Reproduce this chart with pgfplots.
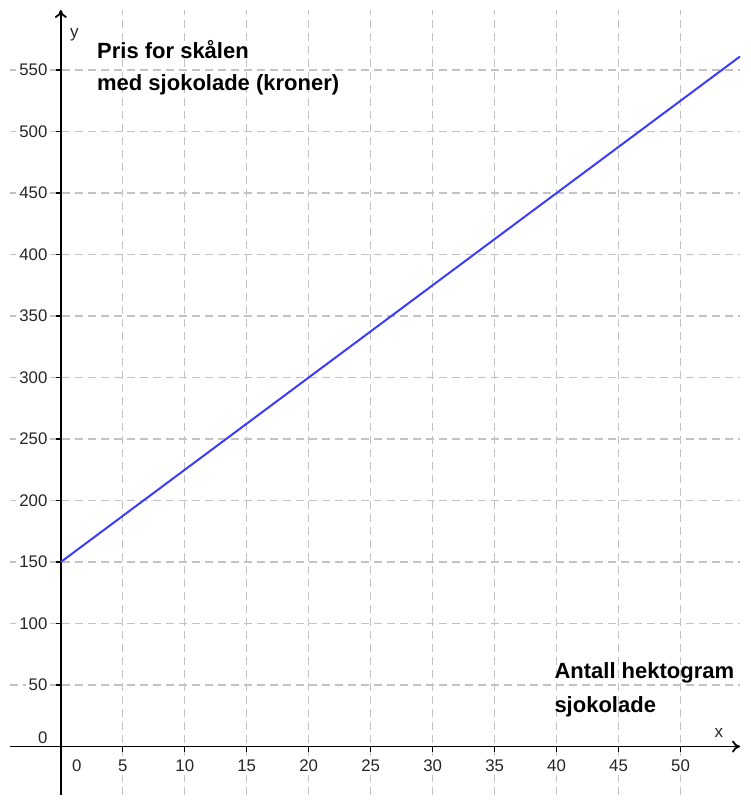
\documentclass[border=0pt]{standalone}
\usepackage{pgfplots}
\pgfplotsset{compat=1.18}
\usepackage{fontspec}
\setmainfont{Liberation Sans}
\usetikzlibrary{arrows.meta}
\definecolor{gridgray}{RGB}{195,195,195}
\definecolor{lineblue}{RGB}{60,60,255}
\begin{document}
\begin{tikzpicture}
\begin{axis}[
    set layers=standard,
    scale only axis,
    width=365pt, height=392.5pt,
    xmin=-4.1, xmax=54.8, ymin=-39.4, ymax=598.8,
    axis lines=middle,
    axis line style={line width=0.9pt, -{To[length=4pt,width=6pt]}},
    xtick={5,10,...,50}, ytick={50,100,...,550},
    extra x ticks={0}, extra y ticks={0},
    extra x tick style={grid=none, xticklabel style={xshift=8pt}},
    extra y tick style={grid=none, yticklabel style={yshift=4.5pt}},
    grid=major,
    major grid style={gridgray, dash pattern=on 4pt off 2.5pt, line width=0.7pt},
    tick style={black, line width=0.6pt},
    tick align=outside,
    major tick length=2.5pt,
    ticklabel style={font=\fontsize{8.4}{10}\selectfont, text=black!85, fill=white, inner sep=1.5pt},
    /pgf/number format/assume math mode=true,
    xticklabel style={anchor=north, yshift=-2.5pt},
    yticklabel style={anchor=east, xshift=-2.5pt},
    clip=false,
]
    \addplot[lineblue, line width=1pt] coordinates {(0,150) (54.8,561)};

    \node[anchor=base west, inner sep=0, font=\fontsize{11}{13}\selectfont\bfseries] at (axis cs:2.9,559) {Pris for skålen};
    \node[anchor=base west, inner sep=0, font=\fontsize{11}{13}\selectfont\bfseries] at (axis cs:2.9,533) {med sjokolade (kroner)};
    \node[anchor=base west, inner sep=0, font=\fontsize{11}{13}\selectfont\bfseries] at (axis cs:39.8,55.2) {Antall hektogram};
    \node[anchor=base west, inner sep=0, font=\fontsize{11}{13}\selectfont\bfseries] at (axis cs:39.8,27.6) {sjokolade};
    \node[font=\fontsize{8.5}{10}\selectfont, text=black!85] at (axis cs:1.1,579) {y};
    \node[font=\fontsize{8.5}{10}\selectfont, text=black!85] at (axis cs:53.1,10.6) {x};
\end{axis}
\path (current axis.south west) ++(-5pt,-4.5pt);
\path (current axis.north east) ++(5pt,5pt);
\end{tikzpicture}
\end{document}
